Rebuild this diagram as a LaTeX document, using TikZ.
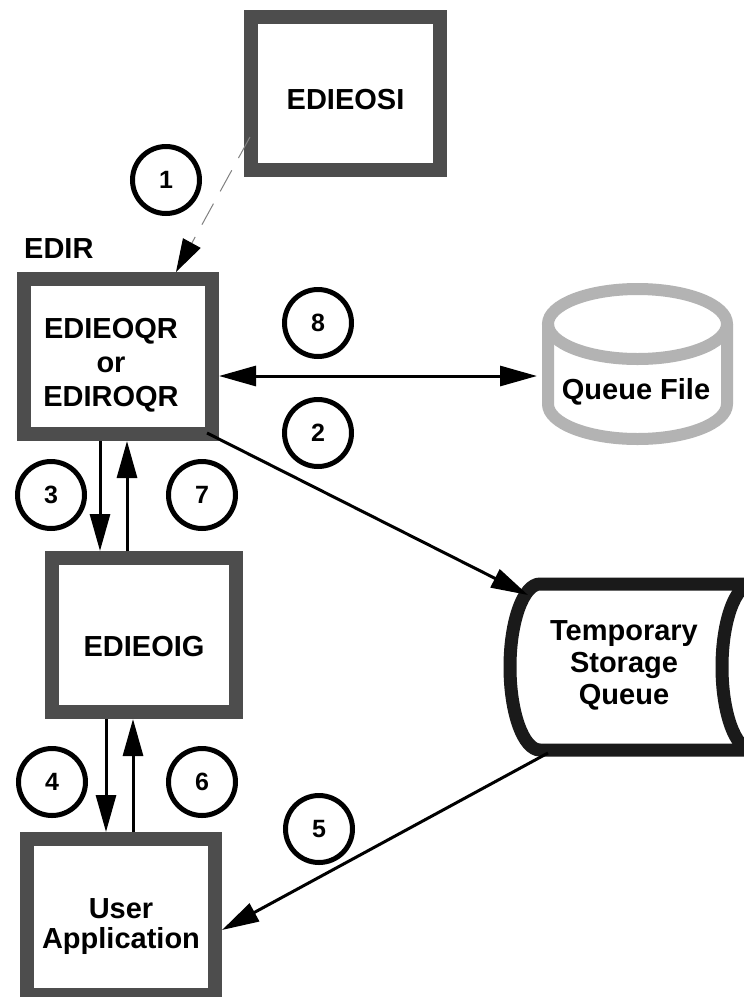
\documentclass[tikz,border=0pt]{standalone}
\usepackage{fontspec}
\setmainfont{Liberation Sans}
\usetikzlibrary{arrows.meta}
\definecolor{boxgray}{HTML}{4D4D4D}
\definecolor{qgray}{HTML}{B3B3B3}
\definecolor{tsqblack}{HTML}{1A1A1A}
\definecolor{dashgray}{HTML}{808080}
\newcommand{\lowerby}[2]{\raisebox{-#1}[\height][\depth]{#2}}
\begin{document}
\begin{tikzpicture}[x=1pt,y=-1pt,
  >={Triangle[length=37pt,width=20pt]},
  prog/.style={draw=boxgray, line width=14pt, fill=white, rectangle, align=center,
    inner sep=0pt, font=\fontsize{29}{34}\selectfont\bfseries},
  plain/.style={inner sep=0pt, align=center, font=\fontsize{29}{34}\selectfont\bfseries},
  num/.style={draw=black, line width=5pt, circle, minimum size=67pt, inner sep=0pt,
    font=\fontsize{25}{30}\selectfont\bfseries},
  arr/.style={line width=3pt, ->},
  dasharr/.style={draw=dashgray, line width=1pt, dash pattern=on 24pt off 14pt,
    -{Triangle[length=33pt,width=20pt,color=black]}},
  qf/.style={draw=qgray, line width=12pt},
  tsq/.style={draw=tsqblack, line width=13pt}]
\fill[white] (0,0) rectangle (744,997);
\useasboundingbox (0,0) rectangle (744,997);

% boxes
\node[prog, minimum width=189pt, minimum height=153pt] (osi) at (345.5,93.5)
  {\lowerby{6.5pt}{EDIEOSI}};
\node[prog, minimum width=188pt, minimum height=155pt] (edir) at (118,356.5)
  {\hspace*{-14pt}\lowerby{9pt}{\begin{tabular}{@{}c@{}}EDIEOQR\\or\\EDIROQR\end{tabular}}};
\node[prog, minimum width=184pt, minimum height=154pt] (oig) at (144,635)
  {\lowerby{12pt}{EDIEOIG}};
\node[prog, minimum width=188pt, minimum height=156pt] (ua) at (121,917)
  {\lowerby{10.5pt}{\fontsize{29}{29}\selectfont\begin{tabular}{@{}c@{}}User\\Application\end{tabular}}};
\node[plain, anchor=base west] (edirlbl) at (24,258) {EDIR};

% queue file (cylinder)
\draw[qf] (548,324) -- (548,404)
  arc[start angle=180, end angle=0, x radius=89.5, y radius=35] -- (727,324);
\draw[qf] (637.5,324) ellipse [x radius=89.5, y radius=35];
\node[plain] (qfile) at (636,392) {Queue File};

% temporary storage queue (horizontal cylinder)
\begin{scope}
\clip (0,0) rectangle (744,997);
\draw[tsq] (760,584) -- (540,584)
  arc[start angle=270, end angle=90, x radius=30, y radius=83] -- (760,750);
\draw[tsq] (752,667) ellipse [x radius=30, y radius=83];
\end{scope}
\node[plain, font=\fontsize{29}{32}\selectfont\bfseries] (tsqtext) at (624,665)
  {Temporary\\Storage\\Queue};

% step numbers
\node[num] (n1) at (166,180) {1};
\node[num] (n8) at (318,323) {8};
\node[num] (n2) at (318,433) {2};
\node[num] (n3) at (51,495) {3};
\node[num] (n7) at (202,495) {7};
\node[num] (n4) at (52,782) {4};
\node[num] (n6) at (202,782) {6};
\node[num] (n5) at (319,829) {5};

% helper coordinates
\coordinate (d1) at (250,137);
\coordinate (x1) at (176,0);
\coordinate (x3) at (100,0);
\coordinate (x7) at (127,0);
\coordinate (x4) at (106,0);
\coordinate (x6) at (133,0);
\coordinate (y8) at (0,376);
\coordinate (qfl) at (537,376);
\coordinate (s2) at (207,433);
\coordinate (e2) at (528,595);
\coordinate (s5) at (548,753);
\coordinate (y5) at (0,930);

% connectors
\draw[dasharr] (d1) -- (x1 |- edir.north);
\draw[line width=3pt, <->] (edir.east |- y8) -- (qfl);
\draw[arr] (s2) -- (e2);
\draw[arr] (x3 |- edir.south) -- (x3 |- oig.north);
\draw[arr] (x7 |- oig.north) -- (x7 |- edir.south);
\draw[arr] (x4 |- oig.south) -- (x4 |- ua.north);
\draw[arr] (x6 |- ua.north) -- (x6 |- oig.south);
\draw[arr] (s5) -- (ua.east |- y5);
\end{tikzpicture}
\end{document}
